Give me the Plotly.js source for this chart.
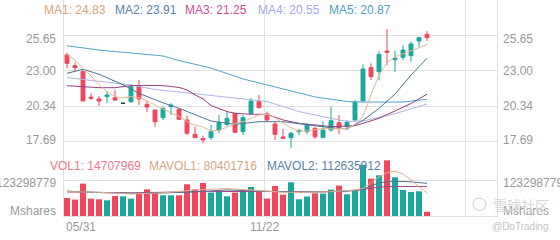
<!DOCTYPE html>
<html><head><meta charset="utf-8">
<script src="https://cdn.plot.ly/plotly-3.0.1.min.js"></script>
<style>html,body{margin:0;padding:0;background:#fff}#chart{width:560px;height:240px}</style>
</head><body><div id="chart"></div>
<script>
// ---- data ----
const openP  = [24.16,23.37,22.92,21.02,20.89,21.06,20.98,20.57,20.69,21.80,20.49,20.07,19.50,20.32,20.12,19.33,18.26,17.94,18.01,18.58,19.00,19.82,18.46,19.82,20.69,19.77,19.03,18.06,18.01,18.46,18.46,18.70,18.01,18.58,19.12,18.83,19.33,20.74,23.22,22.92,24.46,23.81,23.99,24.11,25.20,25.70];
const highP  = [24.33,23.62,23.10,21.31,21.11,21.43,21.56,20.57,21.98,22.30,20.74,20.07,20.32,20.57,20.12,19.65,18.83,18.16,18.95,19.70,19.99,19.82,19.70,20.98,21.19,19.95,19.20,18.66,18.46,18.66,19.08,18.83,19.20,20.32,19.70,19.33,20.81,23.47,23.54,24.46,26.10,24.46,24.91,25.15,25.53,25.95];
const lowP   = [23.17,22.97,20.74,20.81,20.37,20.57,20.74,20.57,20.61,20.44,19.90,18.83,19.33,19.70,19.33,18.21,18.01,17.59,17.84,18.34,18.83,18.34,18.21,19.70,20.20,19.20,17.84,17.94,17.26,18.21,18.26,17.91,18.01,18.46,18.26,18.58,19.20,20.74,22.30,22.27,23.42,22.92,23.79,23.66,24.78,25.20];
const closeP = [23.54,23.22,20.74,20.95,20.74,21.19,20.81,20.57,21.80,20.89,20.29,19.20,20.20,20.44,19.38,18.34,18.01,17.84,18.46,19.15,19.45,18.41,19.50,20.74,20.24,19.33,18.26,17.96,18.34,18.56,18.95,18.08,18.58,19.27,18.70,19.15,20.64,23.12,22.55,24.21,24.36,23.92,24.53,24.98,25.45,25.45];
const volume = [62200000,56600000,111900000,60100000,57700000,54200000,69100000,68000000,60100000,80800000,92200000,82900000,71500000,71500000,71500000,109500000,92200000,114000000,80800000,88800000,68000000,80800000,91200000,100200000,82900000,60100000,103600000,73900000,116400000,57700000,67400000,78400000,77400000,91200000,105000000,75000000,86400000,176800000,129200000,140600000,192400000,133700000,89800000,82900000,85300000,14707969];

const ma1   = [24.16,23.79,23.17,22.60,21.95,21.45,21.06,20.98,21.06,20.98,20.74,20.44,20.10,19.85,19.60,19.20,18.95,18.80,18.50,18.55,18.80,19.05,19.20,19.45,19.70,19.75,19.50,19.10,18.75,18.51,18.51,18.60,18.70,18.66,18.68,18.71,19.00,19.60,21.20,22.67,23.60,24.04,24.25,24.45,24.70,24.96];
const ma2X  = [0,2,4,7,9,12,14,16,18,21,24,27,30,33,35,37,39,41,43,45];
const ma2Y  = [22.80,23.10,22.73,21.95,21.31,20.60,20.20,19.70,19.25,19.00,19.20,19.20,18.95,18.75,18.66,19.30,20.20,21.25,22.67,23.92];
const ma3X  = [0,2,4,6,8,10,12,14,15,16,17,18,20,21,23,25,27,29,31,33,36,39,43,45];
const ma3Y  = [21.88,21.80,21.73,21.73,21.88,21.90,21.88,21.75,21.56,21.19,20.90,20.40,19.95,19.83,19.75,19.75,19.33,19.08,18.95,18.83,18.90,19.45,20.55,21.25];
const ma4X  = [0,4,8,11,17,23,25,29,33,35,37,39,41,43,45];
const ma4Y  = [22.48,22.23,21.93,21.60,21.19,20.83,20.70,19.95,19.45,19.22,19.25,19.50,19.80,20.15,20.52];
const ma5X  = [0,4,8,12,14,18,22,27,31,35,37,42,44,45];
const ma5Y  = [24.85,24.53,24.31,24.09,23.75,23.19,22.38,21.63,21.04,20.70,20.66,20.66,20.78,20.87];

const mavol1X = [0,4,8,12,16,20,24,27,30,33,36,37,38,39,40,41,42,43,44,45];
const mavol1Y = [84e6,82e6,76e6,80e6,90e6,95e6,88e6,82e6,82e6,84e6,90e6,95e6,115e6,135e6,150e6,155e6,145e6,125e6,100e6,80401716];
const mavol2X = [0,5,10,15,20,25,30,35,37,39,41,43,45];
const mavol2Y = [86e6,80e6,78e6,82e6,90e6,85e6,83e6,86e6,92e6,115e6,120e6,118e6,112635912];
const mavol3X = [0,8,16,24,32,36,39,41,45];
const mavol3Y = [83e6,80e6,84e6,85e6,83e6,88e6,100e6,102e6,102e6];

const maNames  = ['MA1','MA2','MA3','MA4','MA5'];
const maLast   = ['24.83','23.91','21.25','20.55','20.87'];
const volNames = ['VOL1','MAVOL1','MAVOL2'];
const volLast  = ['14707969','80401716','112635912'];
const priceTicks = [25.65, 23.00, 20.34, 17.69];
const volTicks = [123298779];
const volUnit = 'Mshares';
const dateLabels = ['05/31','11/22'];

// ---- styling / layout ----
const UP = '#1aa89b', DOWN = '#f2465f', FLAT = '#333333';
const maLine = ['#e6b995','#4b7595','#93407f','#b0b5e4','#55a5c6'];
const maText = ['#d9a57e','#5a82a3','#c2519c','#a4abe2','#4f9fc0'];
const volText = ['#f27a8a','#d4a884','#5a82a3'];
const GRID = '#e2e2e2', LABEL = '#999999';
const FONT = 'Liberation Sans, Arial, sans-serif';
const W = 560, H = 240, ML = 64, MR = 63, MT = 0, MB = 24;
const PW = W - ML - MR, PH = H - MT - MB;
const px2x = p => (p - ML) / PW;
const py2y = p => 1 - (p - MT) / PH;
const gridX = [24.625, 49.75];
const dateX = [-0.375, 24.625];

const idx = openP.map((_, i) => i);
const isFlat = i => openP[i] === closeP[i];
const main = idx.filter(i => !isFlat(i));
const flat = idx.filter(i => isFlat(i));
const pick = (arr, ii) => ii.map(i => arr[i]);

const traces = [];
const lineTrace = (x, y, color, ya) => ({type:'scatter', mode:'lines', x, y, xaxis:'x', yaxis:ya,
  line:{color, width:1}, hoverinfo:'skip', showlegend:false});

traces.push(lineTrace(ma5X, ma5Y, maLine[4], 'y'));
traces.push(lineTrace(ma4X, ma4Y, maLine[3], 'y'));
traces.push(lineTrace(ma3X, ma3Y, maLine[2], 'y'));
traces.push(lineTrace(ma2X, ma2Y, maLine[1], 'y'));
traces.push(lineTrace(idx, ma1, maLine[0], 'y'));

traces.push({type:'candlestick', x:pick(idx,main), open:pick(openP,main), high:pick(highP,main),
  low:pick(lowP,main), close:pick(closeP,main), xaxis:'x', yaxis:'y', showlegend:false, hoverinfo:'skip',
  increasing:{line:{color:UP, width:1}, fillcolor:UP},
  decreasing:{line:{color:DOWN, width:1}, fillcolor:DOWN}});
traces.push({type:'candlestick', x:pick(idx,flat), open:pick(openP,flat), high:pick(highP,flat),
  low:pick(lowP,flat), close:pick(closeP,flat), xaxis:'x', yaxis:'y', showlegend:false, hoverinfo:'skip',
  increasing:{line:{color:FLAT, width:1}, fillcolor:FLAT},
  decreasing:{line:{color:FLAT, width:1}, fillcolor:FLAT}});

traces.push({type:'bar', x:idx, y:volume, xaxis:'x', yaxis:'y2', showlegend:false, hoverinfo:'skip',
  marker:{color: idx.map(i => closeP[i] >= openP[i] ? UP : DOWN), line:{width:0}}});
traces.push(lineTrace(mavol3X, mavol3Y, '#a04a88', 'y2'));
traces.push(lineTrace(mavol2X, mavol2Y, '#53728f', 'y2'));
traces.push(lineTrace(mavol1X, mavol1Y, '#e3b08f', 'y2'));

const ann = [];
const A = o => ann.push(Object.assign({showarrow:false, font:{family:FONT, size:12, color:LABEL}}, o));

const maPos = [42, 113, 183, 256, 327];
maNames.forEach((nm, i) => A({xref:'paper', yref:'paper', x:px2x(maPos[i]), y:py2y(9.5), xanchor:'left', yanchor:'middle',
  text: nm + ': ' + maLast[i], font:{family:FONT, size:12, color:maText[i]}}));
const volPos = [48, 147, 265];
volNames.forEach((nm, i) => A({xref:'paper', yref:'paper', x:px2x(volPos[i]), y:py2y(166), xanchor:'left', yanchor:'middle',
  text: nm + ': ' + volLast[i], font:{family:FONT, size:12, color:volText[i]}}));

priceTicks.forEach((v, i) => {
  const ys = i === 0 ? -4 : (i === priceTicks.length - 1 ? 2 : 0);
  A({xref:'paper', yref:'y', x:px2x(58), y:v, yshift:ys, xanchor:'right', yanchor:'middle', text:v.toFixed(2)});
  A({xref:'paper', yref:'y', x:px2x(501), y:v, yshift:ys, xanchor:'left', yanchor:'middle', text:v.toFixed(2)});
});
volTicks.forEach(v => {
  A({xref:'paper', yref:'y2', x:px2x(58), y:v, yshift:-3, xanchor:'right', yanchor:'middle', text:String(v)});
  A({xref:'paper', yref:'y2', x:px2x(501), y:v, yshift:-3, xanchor:'left', yanchor:'middle', text:String(v)});
});
A({xref:'paper', yref:'paper', x:px2x(58), y:py2y(211), xanchor:'right', yanchor:'middle', text:volUnit});
A({xref:'paper', yref:'paper', x:px2x(501), y:py2y(211), xanchor:'left', yanchor:'middle', text:volUnit});

A({xref:'x', yref:'paper', x:dateX[0], y:py2y(226.5), xanchor:'left', yanchor:'middle', text:dateLabels[0]});
A({xref:'x', yref:'paper', x:dateX[1], y:py2y(226.5), xanchor:'center', yanchor:'middle', text:dateLabels[1]});

// watermark
A({xref:'paper', yref:'paper', x:px2x(491), y:py2y(205), xanchor:'left', yanchor:'middle', text:'雪球社区',
  font:{family:'Noto Sans CJK SC, sans-serif', size:14, color:'#d6d6d6'}});
A({xref:'paper', yref:'paper', x:px2x(490), y:py2y(227), xanchor:'left', yanchor:'middle', text:'@DoTrading',
  font:{family:FONT, size:10, color:'#c4c4c4'}});

const layout = {
  width:W, height:H, margin:{l:ML, r:MR, t:MT, b:MB, pad:0},
  paper_bgcolor:'#fff', plot_bgcolor:'#fff', showlegend:false, hovermode:false,
  boxgap:0.3, bargap:0.25,
  xaxis:{range:[-0.375, 53.75], anchor:'y2', tickvals:gridX, showticklabels:false, ticks:'',
    showgrid:true, gridcolor:GRID, gridwidth:1, zeroline:false, showline:true, linecolor:'#e0e0e0', linewidth:1,
    rangeslider:{visible:false}, fixedrange:true},
  yaxis:{domain:[66/216, 1], range:[17.093, 28.254], tickvals:priceTicks, showticklabels:false, ticks:'',
    showgrid:true, gridcolor:GRID, zeroline:false, showline:true, mirror:true, linecolor:'#e0e0e0', fixedrange:true},
  yaxis2:{domain:[0, 66/216], range:[0, 228e6], tickvals:volTicks, showticklabels:false, ticks:'',
    showgrid:true, gridcolor:GRID, zeroline:false, showline:true, mirror:true, linecolor:'#e0e0e0', fixedrange:true},
  shapes:[{type:'circle', xref:'paper', yref:'paper', x0:px2x(473), x1:px2x(486), y0:py2y(210.5), y1:py2y(198),
    line:{color:'#d6d6d6', width:1.2}}],
  annotations:ann
};
Plotly.newPlot('chart', traces, layout, {staticPlot:true, displayModeBar:false});
</script></body></html>
